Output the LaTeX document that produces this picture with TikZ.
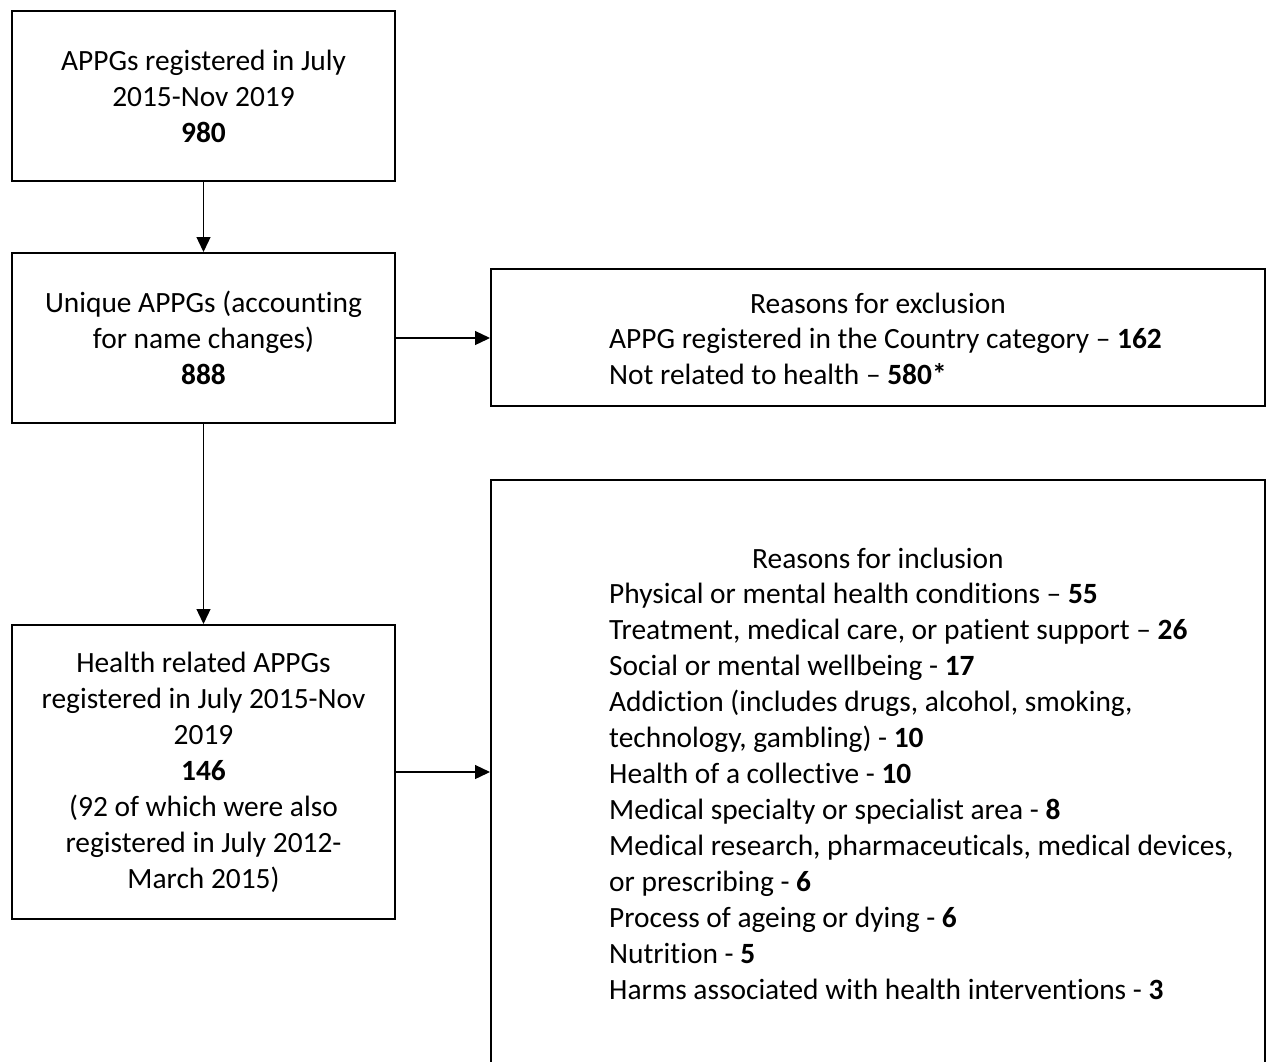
\documentclass[tikz,border=0pt]{standalone}
\usepackage{fontspec}
\setmainfont[Ligatures=NoCommon]{Carlito}
\usetikzlibrary{arrows.meta}
\begin{document}
\begin{tikzpicture}[x=1pt,y=-1pt,
  box/.style={draw, line width=2pt, rectangle, inner sep=0pt, font=\fontsize{29.4}{36}\selectfont, align=center},
  txt/.style={font=\fontsize{29.4}{36}\selectfont, inner sep=0pt},
  arr/.style={line width=1.3pt, -{Triangle[length=15pt,width=14pt]}}]
\useasboundingbox (0,0) rectangle (1269,1061);
\clip (0,0) rectangle (1269,1061);
\fill[white] (0,0) rectangle (1269,1061);
\node[box, minimum width=383pt, minimum height=170pt] (b1) at (203.5,96)
  {APPGs registered in July\\2015-Nov 2019\\\textbf{980}};
\node[box, minimum width=383pt, minimum height=170pt] (b2) at (203.5,338)
  {Unique APPGs (accounting\\for name changes)\\\textbf{888}};
\node[box, minimum width=383pt, minimum height=294pt] (b3) at (203.5,772)
  {Health related APPGs\\registered in July 2015-Nov\\2019\\\textbf{146}\\(92 of which were also\\registered in July 2012-\\March 2015)};
\node[box, minimum width=774pt, minimum height=137pt] (ex) at (878,337.5) {};
\node[box, minimum width=774pt, minimum height=620pt, anchor=north] (in) at (878,479) {};
\node[txt] (ext) at (878,303) {Reasons for exclusion};
\node[txt, align=left, anchor=north west] (exb) at (609,328)
  {APPG registered in the Country category -- \textbf{162}\\Not related to health -- \textbf{580*}};
\node[txt] (int) at (878,558) {Reasons for inclusion};
\node[txt, align=left, anchor=north west] (inb) at (609,583)
  {Physical or mental health conditions -- \textbf{55}\\
   Treatment, medical care, or patient support -- \textbf{26}\\
   Social or mental wellbeing - \textbf{17}\\
   Addiction (includes drugs, alcohol, smoking,\\
   technology, gambling) - \textbf{10}\\
   Health of a collective - \textbf{10}\\
   Medical specialty or specialist area - \textbf{8}\\
   Medical research, pharmaceuticals, medical devices,\\
   or prescribing - \textbf{6}\\
   Process of ageing or dying - \textbf{6}\\
   Nutrition - \textbf{5}\\
   Harms associated with health interventions - \textbf{3}};
\draw[arr] (b1.south) -- (b2.north);
\draw[arr] (b2.south) -- (b3.north);
\draw[arr] (b2.east) -- (b2.east -| ex.west);
\draw[arr] (b3.east) -- (b3.east -| in.west);
\end{tikzpicture}
\end{document}
